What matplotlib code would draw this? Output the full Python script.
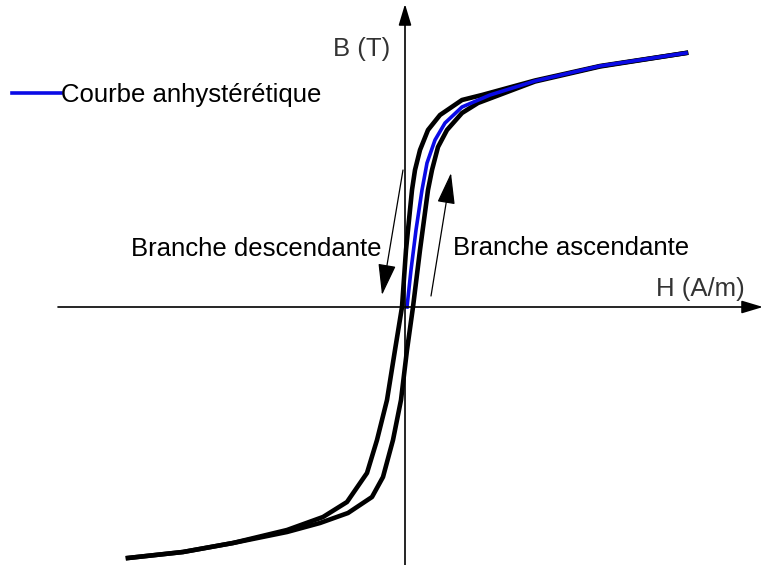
import matplotlib
matplotlib.use("Agg")
import matplotlib.pyplot as plt
from matplotlib.lines import Line2D

plt.rcParams["font.family"] = ["Liberation Sans", "DejaVu Sans"]

# descending branch: from positive saturation down to negative saturation
H_desc = [562, 390, 260, 154, 114, 70, 46, 30, 20, 14, 2, -6, -20, -36, -56,
          -76, -116, -164, -236, -344, -444, -554]
B_desc = [1.016, 0.964, 0.906, 0.848, 0.828, 0.768, 0.708, 0.628, 0.548, 0.468,
          0.228, 0.0, -0.172, -0.372, -0.532, -0.664, -0.78, -0.84, -0.892,
          -0.944, -0.98, -1.004]

# ascending branch: from negative saturation up to positive saturation
H_asc = [-554, -444, -344, -236, -170, -114, -66, -44, -24, -8, 4, 16, 30, 46,
         54, 66, 84, 114, 146, 260, 390, 562]
B_asc = [-1.004, -0.98, -0.944, -0.9, -0.864, -0.824, -0.76, -0.68, -0.532,
         -0.372, -0.172, 0.0, 0.228, 0.468, 0.548, 0.64, 0.708, 0.776, 0.816,
         0.902, 0.962, 1.016]

# anhysteretic curve (first magnetisation side only)
H_anh = [4, 12, 22, 34, 44, 60, 80, 114, 170, 260, 390, 562]
B_anh = [0.0, 0.148, 0.308, 0.468, 0.576, 0.668, 0.736, 0.8, 0.848, 0.904,
         0.964, 1.016]

FS = 18.5
BLUE = "#0a0ae6"

fig = plt.figure(figsize=(7.64, 5.65), dpi=100)
ax = fig.add_axes([0, 0, 1, 1])
ax.set_xlim(-810, 718)
ax.set_ylim(-1.032, 1.228)
ax.axis("off")

# axes with arrow heads
axis_style = dict(arrowstyle="-|>,head_length=1.0,head_width=0.3",
                  mutation_scale=13, lw=1.2, color="black", shrinkA=0, shrinkB=0)
ax.annotate("", xy=(716, 0), xytext=(-694, 0), arrowprops=axis_style)
ax.annotate("", xy=(0, 1.212), xytext=(0, -1.032), arrowprops=axis_style)

ax.plot(H_desc, B_desc, color="black", lw=3.3)
ax.plot(H_asc, B_asc, color="black", lw=3.3)
ax.plot(H_anh, B_anh, color=BLUE, lw=2.6)

# branch direction arrows
branch_style = dict(arrowstyle="-|>,head_length=1.4,head_width=0.4",
                    mutation_scale=14, lw=0.9, color="black",
                    shrinkA=0, shrinkB=0)
ax.annotate("", xy=(-46, 0.048), xytext=(-4, 0.548), arrowprops=branch_style)
ax.annotate("", xy=(92, 0.536), xytext=(52, 0.044), arrowprops=branch_style)

ax.text(-548, 0.204, "Branche descendante", fontsize=FS, va="baseline", ha="left")
ax.text(96, 0.208, "Branche ascendante", fontsize=FS, va="baseline", ha="left")
ax.text(680, 0.044, "H (A/m)", fontsize=FS, va="baseline", ha="right",
        color="#333333")
ax.text(-144, 1.004, "B (T)", fontsize=FS, va="baseline", ha="left",
        color="#333333")

handle = Line2D([], [], color=BLUE, lw=2.6)
ax.legend(handles=[handle], labels=["Courbe anhystérétique"],
          loc="center left", bbox_to_anchor=(0.0157, 0.832), frameon=False,
          fontsize=FS, handlelength=1.9, handletextpad=0.0, borderpad=0,
          borderaxespad=0)

fig.savefig("out.png", dpi=100)
